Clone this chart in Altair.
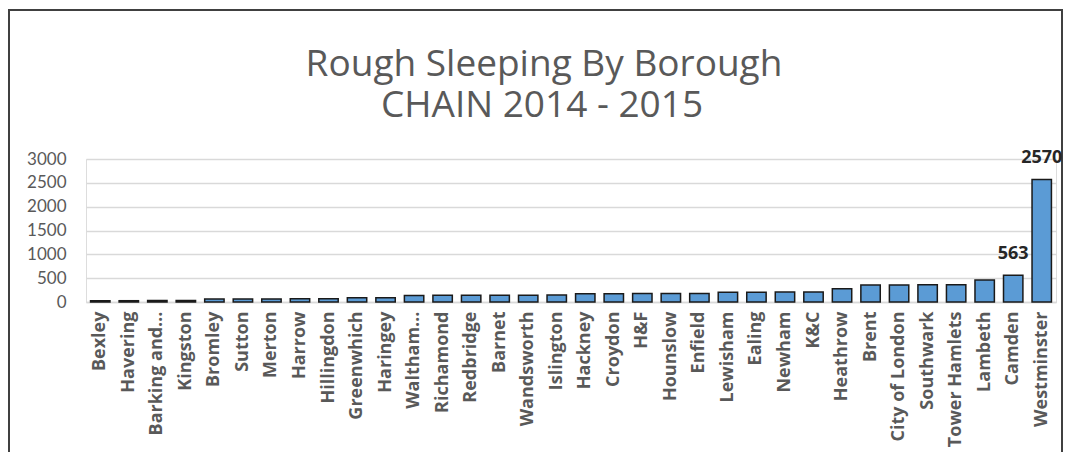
import altair as alt
import pandas as pd

boroughs = ["Bexley", "Havering", "Barking and…", "Kingston", "Bromley", "Sutton",
            "Merton", "Harrow", "Hillingdon", "Greenwhich", "Haringey", "Waltham…",
            "Richamond", "Redbridge", "Barnet", "Wandsworth", "Islington", "Hackney",
            "Croydon", "H&F", "Hounslow", "Enfield", "Lewisham", "Ealing", "Newham",
            "K&C", "Heathrow", "Brent", "City of London", "Southwark", "Tower Hamlets",
            "Lambeth", "Camden", "Westminster"]
counts = [25, 27, 30, 32, 62, 64, 65, 67, 68, 88, 90, 138, 140, 140, 142, 143, 145,
          172, 175, 176, 177, 180, 205, 207, 208, 210, 278, 355, 358, 360, 362, 461,
          563, 2570]
labelled = ["Camden", "Westminster"]
y_ticks = [0, 500, 1000, 1500, 2000, 2500, 3000]
title_line1 = "Rough Sleeping By Borough"
title_line2 = "CHAIN 2014 - 2015"

df = pd.DataFrame({"borough": boroughs, "count": counts})
df["label"] = [str(c) if b in labelled else "" for b, c in zip(boroughs, counts)]

GREY = "#595959"
FONT = "Lato"
BOLD_FONT = "Open Sans"

x_enc = alt.X("borough:N", sort=boroughs, title=None,
              scale=alt.Scale(paddingInner=0.32, paddingOuter=0.16),
              axis=alt.Axis(labelAngle=-90, labelFontWeight="bold", labelFontSize=18,
                            labelColor=GREY, labelFont=BOLD_FONT, ticks=False,
                            domainColor="#D9D9D9", domainWidth=1.5, labelPadding=9,
                            labelLimit=200))
y_enc = alt.Y("count:Q", title=None,
              scale=alt.Scale(domain=[0, 3000], nice=False),
              axis=alt.Axis(values=y_ticks, format="d", tickCount=7,
                            labelFontSize=17, labelColor=GREY, labelFont=FONT,
                            labelOverlap=False,
                            domain=False, ticks=False, labelPadding=20,
                            gridColor="#D9D9D9", gridWidth=1.5))

bars = alt.Chart(df).mark_bar(color="#5B9BD5", stroke="#1a1a1a", strokeWidth=1.5).encode(
    x=x_enc, y=y_enc)

labels = alt.Chart(df).transform_filter("datum.label != ''").mark_text(
    baseline="bottom", dy=-12, fontSize=18, fontWeight="bold", font=BOLD_FONT,
    color="#262626").encode(x=x_enc, y=y_enc, text="label:N")

title_df = pd.DataFrame({"t": [0]})
title1 = alt.Chart(title_df).mark_text(
    font=BOLD_FONT, fontSize=37, fontWeight=500, color=GREY, baseline="alphabetic",
    align="center", text=title_line1).encode(x=alt.value(458), y=alt.value(-83))
title2 = alt.Chart(title_df).mark_text(
    font=BOLD_FONT, fontSize=37, fontWeight=500, color=GREY, baseline="alphabetic",
    align="center", text=title_line2).encode(x=alt.value(456), y=alt.value(-42))

frame = alt.Chart(title_df).mark_rect(
    fill=None, stroke="#404040", strokeWidth=2).encode(
    x=alt.value(-77), x2=alt.value(976), y=alt.value(-149), y2=alt.value(320))

chart = alt.layer(frame, title1, title2, bars, labels).properties(
    width=970, height=143,
    autosize=alt.AutoSizeParams(type="none"),
    padding={"left": 78, "top": 151, "right": 7, "bottom": 150},
).configure_view(stroke=None).configure(background="white")

chart.save("out.html", embed_options={"renderer": "svg", "actions": False})
